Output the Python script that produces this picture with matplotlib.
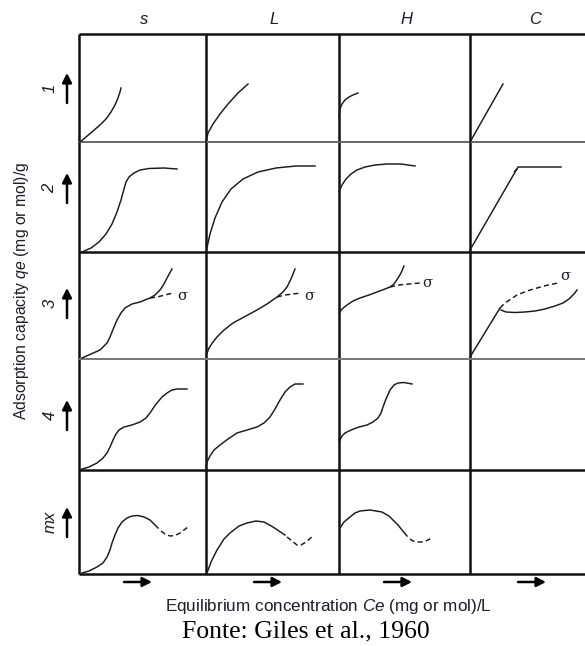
# Giles (1960) isotherm classification grid: classes S/L/H/C by subgroups 1-4 and mx.
import matplotlib
matplotlib.use("Agg")
import matplotlib.pyplot as plt

COLS = ["s", "L", "H", "C"]
ROWS = ["1", "2", "3", "4", "mx"]

# curve points inside each cell, in pixels (x right, y up from the cell's bottom-left)
S1_X = [1, 7, 14, 21, 27, 32, 36, 39, 41, 42]
S1_Y = [0, 5, 11, 17, 23, 30, 37, 44, 50, 54]
L1_X = [0, 2, 7, 14, 22, 32, 42]
L1_Y = [0, 9, 18, 28, 38, 49, 58]
H1_X = [0, 1, 3, 6, 10, 14, 19]
H1_Y = [25, 33, 38, 42, 45, 47, 49]
C1_X = [0, 33]
C1_Y = [0, 58]

S2_X = [3, 12, 20, 27, 33, 38, 42, 45, 47, 50, 55, 61, 70, 85, 98]
S2_Y = [0, 4, 10, 18, 28, 40, 52, 63, 70, 75, 79, 82, 83.5, 84, 83]
L2_X = [0, 4, 9, 16, 25, 37, 52, 70, 90, 109]
L2_Y = [0, 18, 34, 50, 63, 73, 80, 84, 86, 86]
H2_X = [0, 3, 7, 12, 18, 26, 36, 48, 62, 76]
H2_Y = [60, 67, 73, 78, 82, 85, 87, 88, 88, 86]
C2_X = [0, 48, 91]
C2_Y = [2, 85, 85]
C2D_X = [44, 47, 51]
C2D_Y = [80, 83, 84]

S3_X = [3, 12, 21, 28, 31, 35, 38, 42, 46, 53, 61, 71, 76, 81, 85, 88, 93]
S3_Y = [1, 5, 9, 16, 22, 32, 39, 46, 51, 55, 57, 61, 64, 69, 75, 81, 90]
S3D_X = [71, 78, 86, 94]
S3D_Y = [61, 62, 64, 66]
L3_X = [0, 3, 7, 11, 18, 27, 38, 51, 61, 71, 77, 81, 85, 89]
L3_Y = [3, 11, 17, 22, 29, 36, 42, 49, 55, 62, 67, 72, 80, 90]
L3D_X = [71, 79, 87, 95]
L3D_Y = [62, 64, 65, 66]
H3_X = [0, 3, 8, 14, 21, 30, 38, 46, 51, 55, 59, 62, 65]
H3_Y = [46, 50, 54, 58, 61, 64, 67, 70, 72, 75, 81, 86, 93]
H3D_X = [51, 60, 70, 81]
H3D_Y = [72, 74, 75, 76]
C3L_X = [0, 30]
C3L_Y = [2, 51]
C3_X = [31, 36, 45, 55, 65, 75, 85, 93, 99, 104, 107]
C3_Y = [49, 47, 46.5, 47, 48, 50, 53, 56, 60, 65, 69]
C3D_X = [30, 35, 41, 47, 57, 67, 78, 88]
C3D_Y = [51, 56, 60, 64, 68, 71, 74, 76]

S4_X = [3, 10, 18, 24, 28, 31, 34, 37, 40, 45, 53, 61, 67, 71, 75, 78, 83, 88, 93, 98, 108]
S4_Y = [1, 3, 7, 12, 17, 23, 30, 36, 40, 43, 45, 48, 52, 57, 63, 67, 73, 77, 80, 81, 81]
L4_X = [0, 1, 4, 8, 14, 22, 31, 41, 51, 58, 64, 69, 74, 79, 84, 89, 97]
L4_Y = [3, 8, 14, 20, 25, 31, 37, 40, 43, 47, 53, 61, 70, 78, 83, 86, 86]
H4_X = [0, 3, 6, 12, 20, 28, 34, 39, 42, 44, 47, 51, 55, 59, 65, 73]
H4_Y = [28, 34, 37, 40, 43, 45, 48, 52, 57, 63, 71, 80, 85, 87, 87.5, 86]

S5_X = [3, 10, 18, 24, 28, 31, 33, 36, 39, 43, 48, 53, 59, 65, 71, 76, 79]
S5_Y = [1, 3, 7, 11, 17, 24, 31, 39, 46, 52, 56, 58, 58.5, 57, 54, 49, 46]
S5D_X = [82, 86, 91, 96, 101, 105, 109]
S5D_Y = [43, 40, 38, 38.5, 41, 44, 47]
L5_X = [1, 5, 11, 18, 24, 33, 41, 50, 58, 67, 73, 79]
L5_Y = [1, 12, 24, 35, 41, 48, 51, 53, 52, 47, 43, 39]
L5D_X = [81, 86, 91, 95, 100, 107]
L5D_Y = [37, 33, 29, 29, 32, 38]
H5_X = [1, 5, 11, 16, 21, 31, 43, 50, 54, 59, 63, 68]
H5_Y = [46, 52, 57, 61, 63, 64, 62, 58, 54, 49, 44, 38]
H5D_X = [71, 74, 78, 84, 89, 94]
H5D_Y = [35, 33, 32, 32, 34, 37]

SIGMA_XY = {(2, 0): (103, 63), (2, 1): (103, 63), (2, 2): (88, 76), (2, 3): (95, 83)}

# (row, col) -> list of (x, y, dashed)
CURVES = {
    (0, 0): [(S1_X, S1_Y, False)], (0, 1): [(L1_X, L1_Y, False)],
    (0, 2): [(H1_X, H1_Y, False)], (0, 3): [(C1_X, C1_Y, False)],
    (1, 0): [(S2_X, S2_Y, False)], (1, 1): [(L2_X, L2_Y, False)],
    (1, 2): [(H2_X, H2_Y, False)], (1, 3): [(C2_X, C2_Y, False), (C2D_X, C2D_Y, True)],
    (2, 0): [(S3_X, S3_Y, False), (S3D_X, S3D_Y, True)],
    (2, 1): [(L3_X, L3_Y, False), (L3D_X, L3D_Y, True)],
    (2, 2): [(H3_X, H3_Y, False), (H3D_X, H3D_Y, True)],
    (2, 3): [(C3L_X, C3L_Y, False), (C3_X, C3_Y, False), (C3D_X, C3D_Y, True)],
    (3, 0): [(S4_X, S4_Y, False)], (3, 1): [(L4_X, L4_Y, False)],
    (3, 2): [(H4_X, H4_Y, False)],
    (4, 0): [(S5_X, S5_Y, False), (S5D_X, S5D_Y, True)],
    (4, 1): [(L5_X, L5_Y, False), (L5D_X, L5D_Y, True)],
    (4, 2): [(H5_X, H5_Y, False), (H5D_X, H5D_Y, True)],
}

W, H = 585, 646
COL_EDGES = [79, 206, 339, 470, 585]
ROW_EDGES = [34, 142, 252, 359, 470, 574]
HLINE_COLORS = ["#111111", "#666666", "#111111", "#777777", "#111111", "#111111"]
INK = "#1c1c2a"

plt.rcParams["font.family"] = ["Liberation Sans", "DejaVu Sans"]
plt.rcParams["mathtext.fontset"] = "custom"
plt.rcParams["mathtext.it"] = "Liberation Sans:italic"
plt.rcParams["mathtext.rm"] = "Liberation Sans"

fig = plt.figure(figsize=(W / 100, H / 100), dpi=100)
ov = fig.add_axes([0, 0, 1, 1])
ov.set_xlim(0, W)
ov.set_ylim(H, 0)
ov.axis("off")

# grid
for x in COL_EDGES[:-1]:
    ov.plot([x, x], [ROW_EDGES[0], ROW_EDGES[-1]], color="#111111", lw=1.8,
            solid_capstyle="butt")
for y, c in zip(ROW_EDGES, HLINE_COLORS):
    ov.plot([COL_EDGES[0], W], [y, y], color=c, lw=1.8 if c == "#111111" else 1.4,
            solid_capstyle="butt")

# curves, one small axes per cell
for (r, c), curves in CURVES.items():
    x0, x1 = COL_EDGES[c], COL_EDGES[c + 1]
    y0, y1 = ROW_EDGES[r], ROW_EDGES[r + 1]
    ax = fig.add_axes([x0 / W, 1 - y1 / H, (x1 - x0) / W, (y1 - y0) / H])
    ax.set_xlim(0, x1 - x0)
    ax.set_ylim(0, y1 - y0)
    ax.axis("off")
    ax.patch.set_alpha(0)
    for xs, ys, dashed in curves:
        ax.plot(xs, ys, color="#1a1a1a", lw=1.05, clip_on=False,
                ls=(0, (3.5, 2.2)) if dashed else "-")
    if (r, c) in SIGMA_XY:
        sx, sy = SIGMA_XY[(r, c)]
        ax.text(sx, sy, "σ", fontsize=10.5, family="DejaVu Serif", color=INK,
                ha="center", va="center")

# column headers
for i, lab in enumerate(COLS):
    xc = (COL_EDGES[i] + COL_EDGES[i + 1]) / 2 + (2 if i < 3 else 8)
    ov.text(xc, 20, lab, fontsize=12, style="italic", ha="center", va="center", color=INK)

# row labels with upward arrows
row_mid = [88, 188, 303, 415, 522]
for lab, yc in zip(ROWS, row_mid):
    ov.text(50, yc, lab, fontsize=12, style="italic", rotation=90,
            ha="center", va="center", color=INK)
    ov.annotate("", xy=(67, yc - 15), xytext=(67, yc + 15),
                arrowprops=dict(arrowstyle="-|>,head_length=0.55,head_width=0.28",
                                lw=1.8, color="black", shrinkA=0, shrinkB=0))

# bottom arrows
for xc in [138, 268, 398, 532]:
    ov.annotate("", xy=(xc + 14, 582), xytext=(xc - 14, 582),
                arrowprops=dict(arrowstyle="-|>,head_length=0.55,head_width=0.28",
                                lw=1.8, color="black", shrinkA=0, shrinkB=0))

ov.text(22, 291, r"Adsorption capacity $qe$ (mg or mol)/g", rotation=90,
        fontsize=11.3, ha="center", va="center", color=INK)
ov.text(328, 606, r"Equilibrium concentration $Ce$ (mg or mol)/L",
        fontsize=12.3, ha="center", va="center", color=INK)
ov.text(306, 631, "Fonte: Giles et al., 1960", fontsize=18.5,
        family="Liberation Serif", ha="center", va="center", color="black")

fig.savefig("out.png", dpi=100)
